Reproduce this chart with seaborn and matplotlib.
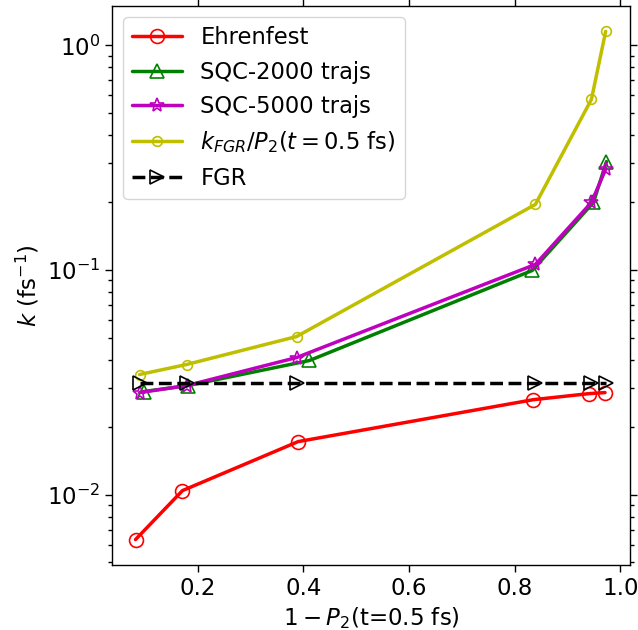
import numpy as np
import pandas as pd
import matplotlib
matplotlib.use("Agg")
import matplotlib.pyplot as plt
import seaborn as sns

# ---- data ----
x_ehr = [0.0821, 0.171, 0.390, 0.835, 0.9407, 0.9707]
k_ehr = [0.00632, 0.01044, 0.01725, 0.0265, 0.0282, 0.0285]

x_sqc2000 = [0.0973, 0.1805, 0.4114, 0.833, 0.9488, 0.9735]
k_sqc2000 = [0.0288, 0.0306, 0.0396, 0.0996, 0.200, 0.304]

x_sqc5000 = [0.0897, 0.1786, 0.3868, 0.839, 0.945, 0.9725]
k_sqc5000 = [0.0285, 0.0306, 0.0408, 0.106, 0.200, 0.283]

x_kfgr = [0.0897, 0.1786, 0.3868, 0.839, 0.945, 0.972]
k_kfgr = [0.0343, 0.0380, 0.0506, 0.196, 0.575, 1.154]

x_fgr = [0.0897, 0.1786, 0.3868, 0.839, 0.945, 0.972]
k_fgr = [0.0313, 0.0313, 0.0313, 0.0313, 0.0313, 0.0313]

labels = ["Ehrenfest", "SQC-2000 trajs", "SQC-5000 trajs",
          r"$k_{FGR}/P_2(t=0.5$ fs$)$", "FGR"]

sns.set_style("ticks")
plt.rcParams["font.family"] = ["DejaVu Sans"]
plt.rcParams["mathtext.fontset"] = "dejavusans"
for key in ["text.color", "axes.labelcolor", "xtick.color", "ytick.color",
            "axes.edgecolor"]:
    plt.rcParams[key] = "black"

fig = plt.figure(figsize=(6.38, 6.30), dpi=100)
ax = fig.add_axes([0.1755, 0.1032, 0.812, 0.8873])

series = [
    (x_ehr, k_ehr, dict(color="r", marker="o", markersize=10, lw=2.5, ls="-")),
    (x_sqc2000, k_sqc2000, dict(color="g", marker="^", markersize=10, lw=2.5, ls="-")),
    (x_sqc5000, k_sqc5000, dict(color="m", marker="*", markersize=10, lw=2.5, ls="-")),
    (x_kfgr, k_kfgr, dict(color="y", marker="o", markersize=7, lw=2.5, ls="-")),
    (x_fgr, k_fgr, dict(color="k", marker=">", markersize=10, lw=2.5, ls="--")),
]

for (xs, ks, st), lab in zip(series, labels):
    df = pd.DataFrame({"x": xs, "k": ks})
    sns.lineplot(data=df, x="x", y="k", ax=ax, label=lab, sort=False,
                 estimator=None, color=st["color"], marker=st["marker"],
                 markersize=st["markersize"], linewidth=st["lw"],
                 linestyle=st["ls"], markerfacecolor="none",
                 markeredgecolor=st["color"], markeredgewidth=1.2)

ax.set_yscale("log")
ax.set_xlabel(r"$1-P_2$(t=0.5 fs)", fontsize=16.5)
ax.set_ylabel(r"$k$ (fs$^{-1}$)", fontsize=16.5)
ax.set_xticks([0.2, 0.4, 0.6, 0.8, 1.0])
ax.tick_params(axis="both", which="both", direction="out", top=True, right=True,
               labelsize=16.5, colors="black")
ax.tick_params(which="major", length=5, width=1)
ax.tick_params(which="minor", length=3, width=1)
for sp in ax.spines.values():
    sp.set_visible(True)
    sp.set_color("black")
    sp.set_linewidth(1.0)

leg = ax.legend(loc="upper left", fontsize=16.3, handlelength=2.2, frameon=True)
for t in leg.get_texts():
    t.set_color("black")

fig.savefig("out.png", dpi=100)
